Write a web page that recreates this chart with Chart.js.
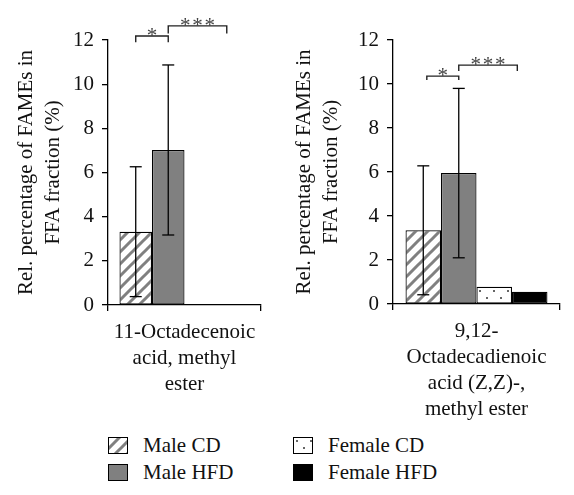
<!DOCTYPE html>
<html><head><meta charset="utf-8">
<script src="https://cdn.jsdelivr.net/npm/chart.js@4/dist/chart.umd.min.js"></script>
<style>
html,body{margin:0;padding:0;background:#fff;width:574px;height:495px;overflow:hidden;}
#c1{position:absolute;left:0;top:0;}
#c2{position:absolute;left:287px;top:0;}
.leg{position:absolute;font:21px "Liberation Serif",serif;color:#111;line-height:22px;white-space:nowrap;}
.sw{position:absolute;}
</style></head><body>
<canvas id="c1" width="287" height="430"></canvas>
<canvas id="c2" width="287" height="430"></canvas>
<div id="legend"></div>
<script>
// ---- data ----
const seriesNames = ['Male CD', 'Male HFD', 'Female CD', 'Female HFD'];
const labelsA = [['11-Octadecenoic', 'acid, methyl', 'ester']];
const labelsB = [['9,12-', 'Octadecadienoic', 'acid (Z,Z)-,', 'methyl ester']];
const valuesA = [3.32, 7.02, 0, 0];
const errorsA = [2.94, 3.85, 0, 0];
const valuesB = [3.35, 5.95, 0.78, 0.56];
const errorsB = [2.93, 3.85, 0, 0];
const yTicks = [0, 2, 4, 6, 8, 10, 12];
const yTitle = ['Rel. percentage of FAMEs in', 'FFA fraction (%)'];
// significance brackets: from bar index, to bar index, bracket level, leg end level
const sigFromA = [0, 1], sigToA = [1, 2.8], sigLevelA = [12.18, 12.64], sigLegA = [11.9, 12.3];
const sigFromB = [0.1, 1], sigToB = [1, 2.65], sigLevelB = [10.36, 10.86], sigLegB = [10.18, 10.59];
const sigLabels = ['*', '***'];

const FONT = 'Liberation Serif';

function hatchPattern(ctx) {
  const s = 12;
  const c = document.createElement('canvas'); c.width = c.height = s;
  const x = c.getContext('2d');
  x.fillStyle = '#fff'; x.fillRect(0, 0, s, s);
  x.strokeStyle = '#808080'; x.lineWidth = 3; x.lineCap = 'square';
  x.beginPath();
  x.moveTo(-3, s + 3); x.lineTo(s + 3, -3);
  x.moveTo(-3, 3); x.lineTo(3, -3);
  x.moveTo(s - 3, s + 3); x.lineTo(s + 3, s - 3);
  x.stroke();
  return ctx.createPattern(c, 'repeat');
}
function dotPattern(ctx) {
  const c = document.createElement('canvas'); c.width = 14; c.height = 14;
  const x = c.getContext('2d');
  x.fillStyle = '#fff'; x.fillRect(0, 0, 14, 14);
  x.fillStyle = '#333';
  x.beginPath(); x.arc(4, 4, 1, 0, Math.PI * 2); x.fill();
  x.beginPath(); x.arc(11, 11, 1, 0, Math.PI * 2); x.fill();
  return ctx.createPattern(c, 'repeat');
}
function fills(ctx) {
  return [hatchPattern(ctx), '#808080', dotPattern(ctx), '#000000'];
}

const overlay = {
  id: 'overlay',
  afterDatasetsDraw(chart, args, o) {
    const { ctx } = chart; const y = chart.scales.y;
    const cx = chart.data.datasets.map((d, i) => chart.getDatasetMeta(i).data[0].x);
    const at = f => { const i = Math.min(Math.floor(f), cx.length - 2); return cx[i] + (f - i) * (cx[i + 1] - cx[i]); };
    ctx.save();
    ctx.strokeStyle = '#000'; ctx.lineWidth = 1.3;
    const line = (a, b, c, d) => { ctx.beginPath(); ctx.moveTo(a, b); ctx.lineTo(c, d); ctx.stroke(); };
    o.values.forEach((v, i) => {
      const e = o.errors[i]; if (!e) return;
      const x = cx[i], yt = y.getPixelForValue(v + e), yb = y.getPixelForValue(v - e);
      line(x, yt, x, yb); line(x - 6, yt, x + 6, yt); line(x - 6, yb, x + 6, yb);
    });
    ctx.strokeStyle = '#222'; ctx.lineWidth = 1.4;
    o.from.forEach((f, k) => {
      const xa = at(f), xb = at(o.to[k]);
      const yl = y.getPixelForValue(o.level[k]), yg = y.getPixelForValue(o.leg[k]);
      ctx.beginPath(); ctx.moveTo(xa, yg); ctx.lineTo(xa, yl); ctx.lineTo(xb, yl); ctx.lineTo(xb, yg); ctx.stroke();
      ctx.fillStyle = '#444'; ctx.font = '21px "' + FONT + '"';
      ctx.textAlign = 'center'; ctx.textBaseline = 'alphabetic';
      ctx.fillText(sigLabels[k].split('').join('\u200A'), (xa + xb) / 2, yl + 6);
    });
    ctx.restore();
  }
};

function makeChart(id, labels, values, errors, sig, yWidth, xHeight, padRight, titlePad) {
  const canvas = document.getElementById(id);
  const ctx = canvas.getContext('2d');
  const f = fills(ctx);
  return new Chart(ctx, {
    type: 'bar',
    data: {
      labels: labels,
      datasets: seriesNames.map((n, i) => ({
        label: n, data: [values[i]], backgroundColor: f[i],
        borderColor: '#000', borderWidth: 1.2, borderSkipped: false,
        categoryPercentage: 0.85, barPercentage: 1
      }))
    },
    options: {
      responsive: false, animation: false, devicePixelRatio: 1,
      layout: { padding: { top: 40, right: padRight, left: 0, bottom: 0 } },
      plugins: { legend: { display: false }, tooltip: { enabled: false },
        overlay: { values, errors, from: sig[0], to: sig[1], level: sig[2], leg: sig[3] } },
      scales: {
        x: {
          ticks: { color: '#111', font: { family: FONT, size: 21, lineHeight: 1.25 }, padding: 8, maxRotation: 0, autoSkip: false },
          grid: { offset: true, drawOnChartArea: false, drawTicks: true, tickLength: 6, color: '#000', lineWidth: 1.3 },
          border: { color: '#000', width: 1.3 },
          afterFit(s) { s.height = xHeight; }
        },
        y: {
          min: 0, max: 12,
          afterBuildTicks(s) { s.ticks = yTicks.map(v => ({ value: v })); },
          ticks: { color: '#111', font: { family: FONT, size: 21 }, padding: 8 },
          grid: { drawOnChartArea: false, drawTicks: true, tickLength: 6, color: '#000', lineWidth: 1.3 },
          border: { color: '#000', width: 1.3 },
          title: { display: true, text: yTitle, color: '#111', font: { family: FONT, size: 21, lineHeight: 1.3 }, padding: { top: titlePad, bottom: 0 } },
          afterFit(s) { s.width = yWidth; }
        }
      }
    },
    plugins: [overlay]
  });
}

makeChart('c1', labelsA, valuesA, errorsA, [sigFromA, sigToA, sigLevelA, sigLegA], 108, 125, 26, 13);
makeChart('c2', labelsB, valuesB, errorsB, [sigFromB, sigToB, sigLevelB, sigLegB], 106, 126, 14, 4);

// ---- legend ----
const legendPos = [[108, 437], [108, 464], [293, 437], [293, 464]];
const legend = document.getElementById('legend');
seriesNames.forEach((n, i) => {
  const [lx, ly] = legendPos[i];
  const sw = document.createElement('canvas');
  sw.width = 20; sw.height = 17; sw.className = 'sw';
  sw.style.left = lx + 'px'; sw.style.top = ly + 'px';
  const sctx = sw.getContext('2d');
  sctx.fillStyle = fills(sctx)[i]; sctx.fillRect(0, 0, 20, 17);
  sctx.strokeStyle = '#000'; sctx.lineWidth = 1; sctx.strokeRect(0.5, 0.5, 19, 16);
  legend.appendChild(sw);
  const t = document.createElement('div');
  t.className = 'leg'; t.textContent = n;
  t.style.left = (lx + 35) + 'px'; t.style.top = (ly - 3) + 'px';
  legend.appendChild(t);
});
</script>
</body></html>
